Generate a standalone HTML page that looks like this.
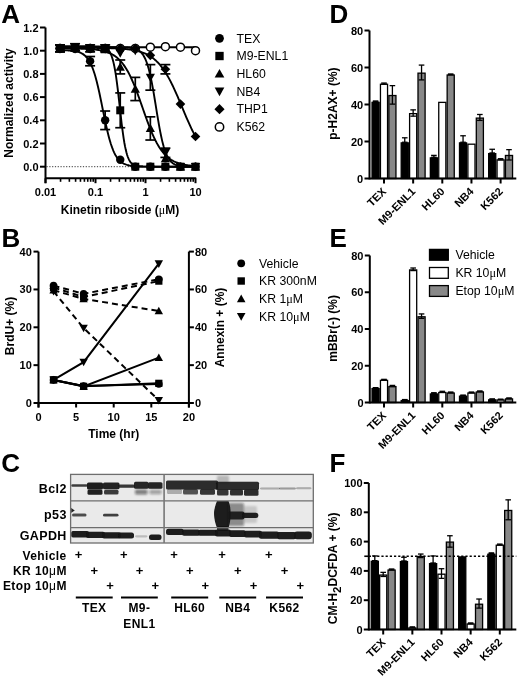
<!DOCTYPE html>
<html><head><meta charset="utf-8"><style>
html,body{margin:0;padding:0;background:#fff;}
body{width:520px;height:678px;overflow:hidden;}
svg{display:block;filter:blur(0.3px);font-family:"Liberation Sans", sans-serif;}
</style></head><body>
<svg width="520" height="678" viewBox="0 0 520 678">
<rect width="520" height="678" fill="#fff"/>
<text x="1.20" y="22.50" font-size="26" font-weight="bold" text-anchor="start" >A</text>
<line x1="45.50" y1="27.50" x2="45.50" y2="183.20" stroke="#000" stroke-width="2" />
<line x1="40.00" y1="166.70" x2="45.50" y2="166.70" stroke="#000" stroke-width="2" />
<text x="38.50" y="170.70" font-size="11" font-weight="bold" text-anchor="end" >0.0</text>
<line x1="40.00" y1="143.50" x2="45.50" y2="143.50" stroke="#000" stroke-width="2" />
<text x="38.50" y="147.50" font-size="11" font-weight="bold" text-anchor="end" >0.2</text>
<line x1="40.00" y1="120.30" x2="45.50" y2="120.30" stroke="#000" stroke-width="2" />
<text x="38.50" y="124.30" font-size="11" font-weight="bold" text-anchor="end" >0.4</text>
<line x1="40.00" y1="97.10" x2="45.50" y2="97.10" stroke="#000" stroke-width="2" />
<text x="38.50" y="101.10" font-size="11" font-weight="bold" text-anchor="end" >0.6</text>
<line x1="40.00" y1="73.90" x2="45.50" y2="73.90" stroke="#000" stroke-width="2" />
<text x="38.50" y="77.90" font-size="11" font-weight="bold" text-anchor="end" >0.8</text>
<line x1="40.00" y1="50.70" x2="45.50" y2="50.70" stroke="#000" stroke-width="2" />
<text x="38.50" y="54.70" font-size="11" font-weight="bold" text-anchor="end" >1.0</text>
<line x1="40.00" y1="27.50" x2="45.50" y2="27.50" stroke="#000" stroke-width="2" />
<text x="38.50" y="31.50" font-size="11" font-weight="bold" text-anchor="end" >1.2</text>
<line x1="45.50" y1="178.30" x2="196.20" y2="178.30" stroke="#000" stroke-width="2" />
<line x1="60.55" y1="178.30" x2="60.55" y2="181.80" stroke="#000" stroke-width="1.6" />
<line x1="69.36" y1="178.30" x2="69.36" y2="181.80" stroke="#000" stroke-width="1.6" />
<line x1="75.60" y1="178.30" x2="75.60" y2="181.80" stroke="#000" stroke-width="1.6" />
<line x1="80.45" y1="178.30" x2="80.45" y2="181.80" stroke="#000" stroke-width="1.6" />
<line x1="84.41" y1="178.30" x2="84.41" y2="181.80" stroke="#000" stroke-width="1.6" />
<line x1="87.75" y1="178.30" x2="87.75" y2="181.80" stroke="#000" stroke-width="1.6" />
<line x1="90.65" y1="178.30" x2="90.65" y2="181.80" stroke="#000" stroke-width="1.6" />
<line x1="93.21" y1="178.30" x2="93.21" y2="181.80" stroke="#000" stroke-width="1.6" />
<line x1="110.55" y1="178.30" x2="110.55" y2="181.80" stroke="#000" stroke-width="1.6" />
<line x1="119.36" y1="178.30" x2="119.36" y2="181.80" stroke="#000" stroke-width="1.6" />
<line x1="125.60" y1="178.30" x2="125.60" y2="181.80" stroke="#000" stroke-width="1.6" />
<line x1="130.45" y1="178.30" x2="130.45" y2="181.80" stroke="#000" stroke-width="1.6" />
<line x1="134.41" y1="178.30" x2="134.41" y2="181.80" stroke="#000" stroke-width="1.6" />
<line x1="137.75" y1="178.30" x2="137.75" y2="181.80" stroke="#000" stroke-width="1.6" />
<line x1="140.65" y1="178.30" x2="140.65" y2="181.80" stroke="#000" stroke-width="1.6" />
<line x1="143.21" y1="178.30" x2="143.21" y2="181.80" stroke="#000" stroke-width="1.6" />
<line x1="160.55" y1="178.30" x2="160.55" y2="181.80" stroke="#000" stroke-width="1.6" />
<line x1="169.36" y1="178.30" x2="169.36" y2="181.80" stroke="#000" stroke-width="1.6" />
<line x1="175.60" y1="178.30" x2="175.60" y2="181.80" stroke="#000" stroke-width="1.6" />
<line x1="180.45" y1="178.30" x2="180.45" y2="181.80" stroke="#000" stroke-width="1.6" />
<line x1="184.41" y1="178.30" x2="184.41" y2="181.80" stroke="#000" stroke-width="1.6" />
<line x1="187.75" y1="178.30" x2="187.75" y2="181.80" stroke="#000" stroke-width="1.6" />
<line x1="190.65" y1="178.30" x2="190.65" y2="181.80" stroke="#000" stroke-width="1.6" />
<line x1="193.21" y1="178.30" x2="193.21" y2="181.80" stroke="#000" stroke-width="1.6" />
<line x1="45.50" y1="178.30" x2="45.50" y2="183.20" stroke="#000" stroke-width="2" />
<line x1="95.50" y1="178.30" x2="95.50" y2="183.20" stroke="#000" stroke-width="2" />
<line x1="145.50" y1="178.30" x2="145.50" y2="183.20" stroke="#000" stroke-width="2" />
<line x1="195.50" y1="178.30" x2="195.50" y2="183.20" stroke="#000" stroke-width="2" />
<text x="45.50" y="196.00" font-size="11" font-weight="bold" text-anchor="middle" >0.01</text>
<text x="95.50" y="196.00" font-size="11" font-weight="bold" text-anchor="middle" >0.1</text>
<text x="145.50" y="196.00" font-size="11" font-weight="bold" text-anchor="middle" >1</text>
<text x="195.50" y="196.00" font-size="11" font-weight="bold" text-anchor="middle" >10</text>
<text x="120.00" y="213.50" font-size="12" font-weight="bold" text-anchor="middle" >Kinetin riboside (<tspan font-family="Liberation Serif" font-weight="normal">&#956;</tspan>M)</text>
<text transform="translate(12.8,103) rotate(-90)" font-size="12" font-weight="bold" text-anchor="middle">Normalized activity</text>
<line x1="46.50" y1="166.70" x2="196.00" y2="166.70" stroke="#000" stroke-width="0.8" stroke-dasharray="1.2,1.6" stroke="#444"/>
<polyline points="60.00,50.20 60.68,50.21 61.36,50.22 62.03,50.24 62.71,50.25 63.39,50.27 64.07,50.28 64.74,50.30 65.42,50.33 66.10,50.35 66.78,50.38 67.45,50.41 68.13,50.45 68.81,50.49 69.49,50.53 70.16,50.58 70.84,50.64 71.52,50.70 72.20,50.78 72.87,50.85 73.55,50.94 74.23,51.04 74.91,51.16 75.58,51.28 76.26,51.42 76.94,51.58 77.62,51.76 78.29,51.95 78.97,52.17 79.65,52.42 80.33,52.69 81.00,53.00 81.68,53.34 82.36,53.73 83.04,54.15 83.71,54.63 84.39,55.16 85.07,55.74 85.75,56.39 86.42,57.11 87.10,57.91 87.78,58.80 88.46,59.77 89.13,60.84 89.81,62.02 90.49,63.31 91.17,64.72 91.84,66.26 92.52,67.94 93.20,69.75 93.88,71.71 94.55,73.81 95.23,76.06 95.91,78.47 96.59,81.02 97.26,83.71 97.94,86.53 98.62,89.49 99.30,92.55 99.97,95.71 100.65,98.95 101.33,102.26 102.01,105.60 102.68,108.96 103.36,112.32 104.04,115.65 104.72,118.94 105.39,122.16 106.07,125.29 106.75,128.32 107.43,131.23 108.10,134.01 108.78,136.66 109.46,139.16 110.14,141.51 110.81,143.72 111.49,145.77 112.17,147.68 112.85,149.45 113.52,151.08 114.20,152.57 114.88,153.95 115.56,155.20 116.23,156.34 116.91,157.38 117.59,158.32 118.27,159.18 118.94,159.95 119.62,160.65 120.30,161.28 120.98,161.84 121.65,162.35 122.33,162.81 123.01,163.22 123.69,163.59 124.36,163.92 125.04,164.22 125.72,164.48 126.40,164.72 127.07,164.93 127.75,165.12 128.43,165.29 129.11,165.45 129.78,165.58 130.46,165.70 131.14,165.81 131.82,165.91 132.49,165.99 133.17,166.07 133.85,166.14 134.53,166.20 135.20,166.25 135.88,166.30 136.56,166.34 137.24,166.38 137.91,166.42 138.59,166.45 139.27,166.48 139.95,166.50 140.62,166.52 141.30,166.54 141.98,166.56 142.66,166.57 143.33,166.59 144.01,166.60 144.69,166.61 145.37,166.62 146.04,166.63 146.72,166.64 147.40,166.64 148.08,166.65 148.75,166.66 149.43,166.66 150.11,166.66 150.79,166.67 151.46,166.67 152.14,166.67 152.82,166.68 153.50,166.68 154.17,166.68 154.85,166.68 155.53,166.69 156.21,166.69 156.88,166.69 157.56,166.69 158.24,166.69 158.92,166.69 159.59,166.69 160.27,166.69 160.95,166.69 161.63,166.70 162.30,166.70 162.98,166.70 163.66,166.70 164.34,166.70 165.01,166.70 165.69,166.70 166.37,166.70 167.05,166.70 167.72,166.70 168.40,166.70 169.08,166.70 169.76,166.70 170.43,166.70 171.11,166.70 171.79,166.70 172.47,166.70 173.14,166.70 173.82,166.70 174.50,166.70 175.18,166.70 175.85,166.70 176.53,166.70 177.21,166.70 177.89,166.70 178.56,166.70 179.24,166.70 179.92,166.70 180.60,166.70 181.27,166.70 181.95,166.70 182.63,166.70 183.31,166.70 183.98,166.70 184.66,166.70 185.34,166.70 186.02,166.70 186.69,166.70 187.37,166.70 188.05,166.70 188.73,166.70 189.40,166.70 190.08,166.70 190.76,166.70 191.44,166.70 192.11,166.70 192.79,166.70 193.47,166.70 194.15,166.70 194.82,166.70 195.50,166.70" fill="none" stroke="#000" stroke-width="1.9"/>
<polyline points="60.00,46.29 60.68,46.29 61.36,46.29 62.03,46.29 62.71,46.29 63.39,46.29 64.07,46.29 64.74,46.29 65.42,46.29 66.10,46.29 66.78,46.29 67.45,46.29 68.13,46.29 68.81,46.29 69.49,46.29 70.16,46.29 70.84,46.29 71.52,46.29 72.20,46.29 72.87,46.29 73.55,46.29 74.23,46.29 74.91,46.29 75.58,46.29 76.26,46.29 76.94,46.29 77.62,46.29 78.29,46.29 78.97,46.29 79.65,46.29 80.33,46.29 81.00,46.29 81.68,46.29 82.36,46.29 83.04,46.29 83.71,46.29 84.39,46.30 85.07,46.30 85.75,46.30 86.42,46.30 87.10,46.30 87.78,46.30 88.46,46.30 89.13,46.30 89.81,46.31 90.49,46.31 91.17,46.32 91.84,46.32 92.52,46.33 93.20,46.33 93.88,46.34 94.55,46.36 95.23,46.37 95.91,46.39 96.59,46.41 97.26,46.44 97.94,46.47 98.62,46.51 99.30,46.56 99.97,46.62 100.65,46.69 101.33,46.78 102.01,46.89 102.68,47.02 103.36,47.19 104.04,47.39 104.72,47.63 105.39,47.92 106.07,48.29 106.75,48.73 107.43,49.26 108.10,49.91 108.78,50.69 109.46,51.63 110.14,52.77 110.81,54.13 111.49,55.75 112.17,57.68 112.85,59.95 113.52,62.61 114.20,65.68 114.88,69.21 115.56,73.21 116.23,77.69 116.91,82.62 117.59,87.96 118.27,93.64 118.94,99.57 119.62,105.65 120.30,111.74 120.98,117.73 121.65,123.49 122.33,128.93 123.01,133.98 123.69,138.58 124.36,142.72 125.04,146.38 125.72,149.58 126.40,152.34 127.07,154.72 127.75,156.74 128.43,158.44 129.11,159.87 129.78,161.06 130.46,162.06 131.14,162.88 131.82,163.57 132.49,164.13 133.17,164.59 133.85,164.97 134.53,165.29 135.20,165.54 135.88,165.75 136.56,165.93 137.24,166.07 137.91,166.18 138.59,166.28 139.27,166.36 139.95,166.42 140.62,166.47 141.30,166.51 141.98,166.55 142.66,166.57 143.33,166.60 144.01,166.62 144.69,166.63 145.37,166.64 146.04,166.65 146.72,166.66 147.40,166.67 148.08,166.68 148.75,166.68 149.43,166.68 150.11,166.69 150.79,166.69 151.46,166.69 152.14,166.69 152.82,166.69 153.50,166.70 154.17,166.70 154.85,166.70 155.53,166.70 156.21,166.70 156.88,166.70 157.56,166.70 158.24,166.70 158.92,166.70 159.59,166.70 160.27,166.70 160.95,166.70 161.63,166.70 162.30,166.70 162.98,166.70 163.66,166.70 164.34,166.70 165.01,166.70 165.69,166.70 166.37,166.70 167.05,166.70 167.72,166.70 168.40,166.70 169.08,166.70 169.76,166.70 170.43,166.70 171.11,166.70 171.79,166.70 172.47,166.70 173.14,166.70 173.82,166.70 174.50,166.70 175.18,166.70 175.85,166.70 176.53,166.70 177.21,166.70 177.89,166.70 178.56,166.70 179.24,166.70 179.92,166.70 180.60,166.70 181.27,166.70 181.95,166.70 182.63,166.70 183.31,166.70 183.98,166.70 184.66,166.70 185.34,166.70 186.02,166.70 186.69,166.70 187.37,166.70 188.05,166.70 188.73,166.70 189.40,166.70 190.08,166.70 190.76,166.70 191.44,166.70 192.11,166.70 192.79,166.70 193.47,166.70 194.15,166.70 194.82,166.70 195.50,166.70" fill="none" stroke="#000" stroke-width="1.9"/>
<polyline points="60.00,48.42 60.68,48.42 61.36,48.43 62.03,48.43 62.71,48.43 63.39,48.44 64.07,48.44 64.74,48.44 65.42,48.45 66.10,48.45 66.78,48.46 67.45,48.46 68.13,48.47 68.81,48.48 69.49,48.48 70.16,48.49 70.84,48.50 71.52,48.50 72.20,48.51 72.87,48.52 73.55,48.53 74.23,48.54 74.91,48.55 75.58,48.56 76.26,48.58 76.94,48.59 77.62,48.60 78.29,48.62 78.97,48.63 79.65,48.65 80.33,48.67 81.00,48.69 81.68,48.71 82.36,48.73 83.04,48.76 83.71,48.78 84.39,48.81 85.07,48.84 85.75,48.87 86.42,48.90 87.10,48.94 87.78,48.97 88.46,49.01 89.13,49.06 89.81,49.10 90.49,49.15 91.17,49.20 91.84,49.26 92.52,49.32 93.20,49.38 93.88,49.45 94.55,49.52 95.23,49.59 95.91,49.68 96.59,49.76 97.26,49.85 97.94,49.95 98.62,50.06 99.30,50.17 99.97,50.29 100.65,50.42 101.33,50.55 102.01,50.70 102.68,50.85 103.36,51.01 104.04,51.19 104.72,51.37 105.39,51.57 106.07,51.78 106.75,52.00 107.43,52.24 108.10,52.49 108.78,52.76 109.46,53.05 110.14,53.35 110.81,53.67 111.49,54.01 112.17,54.37 112.85,54.76 113.52,55.16 114.20,55.59 114.88,56.05 115.56,56.53 116.23,57.05 116.91,57.59 117.59,58.16 118.27,58.76 118.94,59.40 119.62,60.07 120.30,60.78 120.98,61.53 121.65,62.31 122.33,63.14 123.01,64.01 123.69,64.92 124.36,65.87 125.04,66.87 125.72,67.92 126.40,69.01 127.07,70.15 127.75,71.34 128.43,72.57 129.11,73.86 129.78,75.19 130.46,76.58 131.14,78.01 131.82,79.49 132.49,81.01 133.17,82.58 133.85,84.20 134.53,85.86 135.20,87.55 135.88,89.29 136.56,91.06 137.24,92.86 137.91,94.70 138.59,96.55 139.27,98.44 139.95,100.34 140.62,102.25 141.30,104.18 141.98,106.12 142.66,108.05 143.33,109.99 144.01,111.92 144.69,113.84 145.37,115.75 146.04,117.64 146.72,119.51 147.40,121.36 148.08,123.18 148.75,124.96 149.43,126.72 150.11,128.43 150.79,130.11 151.46,131.74 152.14,133.34 152.82,134.88 153.50,136.38 154.17,137.84 154.85,139.24 155.53,140.60 156.21,141.91 156.88,143.17 157.56,144.38 158.24,145.54 158.92,146.66 159.59,147.72 160.27,148.74 160.95,149.72 161.63,150.65 162.30,151.54 162.98,152.38 163.66,153.19 164.34,153.95 165.01,154.68 165.69,155.37 166.37,156.02 167.05,156.64 167.72,157.23 168.40,157.78 169.08,158.31 169.76,158.81 170.43,159.27 171.11,159.72 171.79,160.14 172.47,160.53 173.14,160.90 173.82,161.25 174.50,161.58 175.18,161.90 175.85,162.19 176.53,162.46 177.21,162.72 177.89,162.97 178.56,163.20 179.24,163.41 179.92,163.62 180.60,163.81 181.27,163.99 181.95,164.15 182.63,164.31 183.31,164.46 183.98,164.60 184.66,164.73 185.34,164.85 186.02,164.97 186.69,165.08 187.37,165.18 188.05,165.28 188.73,165.36 189.40,165.45 190.08,165.53 190.76,165.60 191.44,165.67 192.11,165.73 192.79,165.80 193.47,165.85 194.15,165.91 194.82,165.96 195.50,166.00" fill="none" stroke="#000" stroke-width="1.9"/>
<polyline points="60.00,47.22 60.68,47.22 61.36,47.22 62.03,47.22 62.71,47.22 63.39,47.22 64.07,47.22 64.74,47.22 65.42,47.22 66.10,47.22 66.78,47.22 67.45,47.22 68.13,47.22 68.81,47.22 69.49,47.22 70.16,47.22 70.84,47.22 71.52,47.22 72.20,47.22 72.87,47.22 73.55,47.22 74.23,47.22 74.91,47.22 75.58,47.22 76.26,47.22 76.94,47.22 77.62,47.22 78.29,47.22 78.97,47.22 79.65,47.22 80.33,47.22 81.00,47.22 81.68,47.22 82.36,47.22 83.04,47.22 83.71,47.22 84.39,47.22 85.07,47.22 85.75,47.22 86.42,47.22 87.10,47.22 87.78,47.22 88.46,47.22 89.13,47.22 89.81,47.22 90.49,47.22 91.17,47.22 91.84,47.22 92.52,47.22 93.20,47.22 93.88,47.22 94.55,47.22 95.23,47.22 95.91,47.22 96.59,47.22 97.26,47.22 97.94,47.22 98.62,47.22 99.30,47.22 99.97,47.22 100.65,47.22 101.33,47.22 102.01,47.22 102.68,47.22 103.36,47.22 104.04,47.22 104.72,47.22 105.39,47.22 106.07,47.22 106.75,47.22 107.43,47.23 108.10,47.23 108.78,47.23 109.46,47.23 110.14,47.23 110.81,47.23 111.49,47.23 112.17,47.23 112.85,47.24 113.52,47.24 114.20,47.24 114.88,47.24 115.56,47.25 116.23,47.25 116.91,47.26 117.59,47.26 118.27,47.27 118.94,47.28 119.62,47.28 120.30,47.29 120.98,47.30 121.65,47.32 122.33,47.33 123.01,47.35 123.69,47.37 124.36,47.39 125.04,47.42 125.72,47.45 126.40,47.48 127.07,47.52 127.75,47.56 128.43,47.61 129.11,47.67 129.78,47.74 130.46,47.82 131.14,47.91 131.82,48.01 132.49,48.13 133.17,48.27 133.85,48.43 134.53,48.61 135.20,48.81 135.88,49.05 136.56,49.32 137.24,49.63 137.91,49.98 138.59,50.39 139.27,50.85 139.95,51.38 140.62,51.98 141.30,52.67 141.98,53.45 142.66,54.33 143.33,55.33 144.01,56.46 144.69,57.73 145.37,59.15 146.04,60.75 146.72,62.52 147.40,64.50 148.08,66.68 148.75,69.07 149.43,71.69 150.11,74.54 150.79,77.61 151.46,80.90 152.14,84.40 152.82,88.08 153.50,91.94 154.17,95.93 154.85,100.03 155.53,104.19 156.21,108.38 156.88,112.56 157.56,116.68 158.24,120.71 158.92,124.61 159.59,128.36 160.27,131.92 160.95,135.28 161.63,138.42 162.30,141.34 162.98,144.03 163.66,146.50 164.34,148.74 165.01,150.78 165.69,152.62 166.37,154.27 167.05,155.75 167.72,157.07 168.40,158.24 169.08,159.28 169.76,160.20 170.43,161.01 171.11,161.73 171.79,162.35 172.47,162.90 173.14,163.39 173.82,163.81 174.50,164.18 175.18,164.51 175.85,164.79 176.53,165.04 177.21,165.25 177.89,165.44 178.56,165.60 179.24,165.74 179.92,165.87 180.60,165.98 181.27,166.07 181.95,166.15 182.63,166.22 183.31,166.29 183.98,166.34 184.66,166.39 185.34,166.43 186.02,166.46 186.69,166.49 187.37,166.52 188.05,166.55 188.73,166.57 189.40,166.58 190.08,166.60 190.76,166.61 191.44,166.62 192.11,166.63 192.79,166.64 193.47,166.65 194.15,166.66 194.82,166.66 195.50,166.67" fill="none" stroke="#000" stroke-width="1.9"/>
<polyline points="60.00,47.81 60.68,47.81 61.36,47.81 62.03,47.81 62.71,47.81 63.39,47.81 64.07,47.81 64.74,47.81 65.42,47.81 66.10,47.81 66.78,47.81 67.45,47.81 68.13,47.81 68.81,47.81 69.49,47.81 70.16,47.81 70.84,47.82 71.52,47.82 72.20,47.82 72.87,47.82 73.55,47.82 74.23,47.82 74.91,47.82 75.58,47.82 76.26,47.82 76.94,47.82 77.62,47.83 78.29,47.83 78.97,47.83 79.65,47.83 80.33,47.83 81.00,47.83 81.68,47.84 82.36,47.84 83.04,47.84 83.71,47.84 84.39,47.85 85.07,47.85 85.75,47.85 86.42,47.85 87.10,47.86 87.78,47.86 88.46,47.86 89.13,47.87 89.81,47.87 90.49,47.87 91.17,47.88 91.84,47.88 92.52,47.89 93.20,47.89 93.88,47.90 94.55,47.90 95.23,47.91 95.91,47.91 96.59,47.92 97.26,47.93 97.94,47.93 98.62,47.94 99.30,47.95 99.97,47.96 100.65,47.97 101.33,47.98 102.01,47.99 102.68,48.00 103.36,48.01 104.04,48.02 104.72,48.03 105.39,48.04 106.07,48.06 106.75,48.07 107.43,48.09 108.10,48.10 108.78,48.12 109.46,48.14 110.14,48.16 110.81,48.18 111.49,48.20 112.17,48.22 112.85,48.25 113.52,48.27 114.20,48.30 114.88,48.32 115.56,48.35 116.23,48.38 116.91,48.42 117.59,48.45 118.27,48.49 118.94,48.53 119.62,48.57 120.30,48.61 120.98,48.66 121.65,48.70 122.33,48.75 123.01,48.81 123.69,48.86 124.36,48.92 125.04,48.98 125.72,49.05 126.40,49.12 127.07,49.19 127.75,49.27 128.43,49.35 129.11,49.44 129.78,49.53 130.46,49.62 131.14,49.72 131.82,49.83 132.49,49.94 133.17,50.06 133.85,50.18 134.53,50.31 135.20,50.45 135.88,50.60 136.56,50.75 137.24,50.91 137.91,51.08 138.59,51.26 139.27,51.45 139.95,51.64 140.62,51.85 141.30,52.07 141.98,52.30 142.66,52.55 143.33,52.80 144.01,53.07 144.69,53.35 145.37,53.65 146.04,53.96 146.72,54.28 147.40,54.63 148.08,54.99 148.75,55.36 149.43,55.76 150.11,56.18 150.79,56.61 151.46,57.07 152.14,57.54 152.82,58.04 153.50,58.57 154.17,59.11 154.85,59.69 155.53,60.28 156.21,60.91 156.88,61.56 157.56,62.23 158.24,62.94 158.92,63.68 159.59,64.44 160.27,65.24 160.95,66.07 161.63,66.93 162.30,67.82 162.98,68.75 163.66,69.71 164.34,70.70 165.01,71.73 165.69,72.79 166.37,73.88 167.05,75.01 167.72,76.17 168.40,77.37 169.08,78.60 169.76,79.86 170.43,81.15 171.11,82.48 171.79,83.84 172.47,85.22 173.14,86.64 173.82,88.08 174.50,89.54 175.18,91.04 175.85,92.55 176.53,94.08 177.21,95.63 177.89,97.20 178.56,98.79 179.24,100.38 179.92,101.99 180.60,103.60 181.27,105.22 181.95,106.84 182.63,108.47 183.31,110.09 183.98,111.70 184.66,113.31 185.34,114.92 186.02,116.51 186.69,118.08 187.37,119.64 188.05,121.19 188.73,122.71 189.40,124.21 190.08,125.69 190.76,127.15 191.44,128.57 192.11,129.97 192.79,131.34 193.47,132.69 194.15,134.00 194.82,135.27 195.50,136.52" fill="none" stroke="#000" stroke-width="1.9"/>
<polyline points="60.00,47.22 60.68,47.22 61.36,47.22 62.03,47.22 62.71,47.22 63.39,47.22 64.07,47.22 64.74,47.22 65.42,47.22 66.10,47.22 66.78,47.22 67.45,47.22 68.13,47.22 68.81,47.22 69.49,47.22 70.16,47.22 70.84,47.22 71.52,47.22 72.20,47.22 72.87,47.22 73.55,47.22 74.23,47.22 74.91,47.22 75.58,47.22 76.26,47.22 76.94,47.22 77.62,47.22 78.29,47.22 78.97,47.22 79.65,47.22 80.33,47.22 81.00,47.22 81.68,47.22 82.36,47.22 83.04,47.22 83.71,47.22 84.39,47.22 85.07,47.22 85.75,47.22 86.42,47.22 87.10,47.22 87.78,47.22 88.46,47.22 89.13,47.22 89.81,47.22 90.49,47.22 91.17,47.22 91.84,47.22 92.52,47.22 93.20,47.22 93.88,47.22 94.55,47.22 95.23,47.22 95.91,47.22 96.59,47.22 97.26,47.22 97.94,47.22 98.62,47.22 99.30,47.22 99.97,47.22 100.65,47.22 101.33,47.22 102.01,47.22 102.68,47.22 103.36,47.22 104.04,47.22 104.72,47.22 105.39,47.22 106.07,47.22 106.75,47.22 107.43,47.22 108.10,47.22 108.78,47.22 109.46,47.22 110.14,47.22 110.81,47.22 111.49,47.22 112.17,47.22 112.85,47.22 113.52,47.22 114.20,47.22 114.88,47.22 115.56,47.22 116.23,47.22 116.91,47.22 117.59,47.22 118.27,47.22 118.94,47.22 119.62,47.22 120.30,47.22 120.98,47.22 121.65,47.22 122.33,47.22 123.01,47.22 123.69,47.22 124.36,47.22 125.04,47.22 125.72,47.22 126.40,47.22 127.07,47.22 127.75,47.22 128.43,47.22 129.11,47.22 129.78,47.22 130.46,47.22 131.14,47.22 131.82,47.22 132.49,47.22 133.17,47.22 133.85,47.22 134.53,47.22 135.20,47.22 135.88,47.22 136.56,47.22 137.24,47.22 137.91,47.22 138.59,47.22 139.27,47.22 139.95,47.22 140.62,47.22 141.30,47.22 141.98,47.22 142.66,47.22 143.33,47.22 144.01,47.22 144.69,47.22 145.37,47.22 146.04,47.22 146.72,47.22 147.40,47.22 148.08,47.22 148.75,47.22 149.43,47.22 150.11,47.22 150.79,47.22 151.46,47.22 152.14,47.22 152.82,47.22 153.50,47.22 154.17,47.22 154.85,47.22 155.53,47.22 156.21,47.22 156.88,47.22 157.56,47.22 158.24,47.22 158.92,47.22 159.59,47.22 160.27,47.22 160.95,47.22 161.63,47.22 162.30,47.22 162.98,47.22 163.66,47.22 164.34,47.22 165.01,47.22 165.69,47.22 166.37,47.22 167.05,47.22 167.72,47.22 168.40,47.22 169.08,47.22 169.76,47.22 170.43,47.22 171.11,47.22 171.79,47.22 172.47,47.22 173.14,47.22 173.82,47.22 174.50,47.22 175.18,47.22 175.85,47.22 176.53,47.22 177.21,47.22 177.89,47.22 178.56,47.22 179.24,47.22 179.92,47.22 180.60,47.22 181.27,47.22 181.95,47.22 182.63,47.22 183.31,47.22 183.98,47.22 184.66,47.22 185.34,47.22 186.02,47.22 186.69,47.22 187.37,47.22 188.05,47.22 188.73,47.22 189.40,47.22 190.08,47.22 190.76,47.22 191.44,47.22 192.11,47.22 192.79,47.22 193.47,47.22 194.15,47.22 194.82,47.22 195.50,47.22" fill="none" stroke="#000" stroke-width="1.9"/>
<circle cx="60.00" cy="48.38" r="4.00" fill="#fff" stroke="#000" stroke-width="1.5"/>
<circle cx="75.05" cy="48.38" r="4.00" fill="#fff" stroke="#000" stroke-width="1.5"/>
<circle cx="90.10" cy="48.38" r="4.00" fill="#fff" stroke="#000" stroke-width="1.5"/>
<circle cx="105.16" cy="48.38" r="4.00" fill="#fff" stroke="#000" stroke-width="1.5"/>
<circle cx="120.24" cy="48.38" r="4.00" fill="#fff" stroke="#000" stroke-width="1.5"/>
<circle cx="135.29" cy="48.38" r="4.00" fill="#fff" stroke="#000" stroke-width="1.5"/>
<circle cx="150.35" cy="47.22" r="4.00" fill="#fff" stroke="#000" stroke-width="1.5"/>
<circle cx="165.40" cy="46.64" r="4.00" fill="#fff" stroke="#000" stroke-width="1.5"/>
<circle cx="180.45" cy="47.22" r="4.00" fill="#fff" stroke="#000" stroke-width="1.5"/>
<circle cx="195.50" cy="50.70" r="4.00" fill="#fff" stroke="#000" stroke-width="1.5"/>
<path d="M60.00,43.55 L64.83,48.38 L60.00,53.21 L55.17,48.38Z" fill="#000"/>
<path d="M75.05,43.55 L79.88,48.38 L75.05,53.21 L70.22,48.38Z" fill="#000"/>
<path d="M90.10,43.55 L94.93,48.38 L90.10,53.21 L85.27,48.38Z" fill="#000"/>
<path d="M105.16,43.55 L109.99,48.38 L105.16,53.21 L100.33,48.38Z" fill="#000"/>
<path d="M120.24,43.55 L125.07,48.38 L120.24,53.21 L115.41,48.38Z" fill="#000"/>
<path d="M135.29,43.55 L140.12,48.38 L135.29,53.21 L130.46,48.38Z" fill="#000"/>
<path d="M150.35,50.51 L155.18,55.34 L150.35,60.17 L145.52,55.34Z" fill="#000"/>
<line x1="165.40" y1="64.62" x2="165.40" y2="73.90" stroke="#000" stroke-width="1.7" />
<line x1="160.40" y1="64.62" x2="170.40" y2="64.62" stroke="#000" stroke-width="1.7" />
<line x1="160.40" y1="73.90" x2="170.40" y2="73.90" stroke="#000" stroke-width="1.7" />
<path d="M165.40,64.43 L170.23,69.26 L165.40,74.09 L160.57,69.26Z" fill="#000"/>
<path d="M180.45,99.23 L185.28,104.06 L180.45,108.89 L175.62,104.06Z" fill="#000"/>
<path d="M195.50,131.71 L200.33,136.54 L195.50,141.37 L190.67,136.54Z" fill="#000"/>
<path d="M60.00,53.00 L64.62,44.68 L55.38,44.68Z" fill="#000"/>
<path d="M75.05,53.00 L79.67,44.68 L70.43,44.68Z" fill="#000"/>
<path d="M90.10,53.00 L94.72,44.68 L85.48,44.68Z" fill="#000"/>
<path d="M105.16,53.00 L109.78,44.68 L100.54,44.68Z" fill="#000"/>
<path d="M120.24,57.64 L124.86,49.32 L115.62,49.32Z" fill="#000"/>
<path d="M135.29,55.32 L139.91,47.00 L130.67,47.00Z" fill="#000"/>
<line x1="150.35" y1="64.62" x2="150.35" y2="90.14" stroke="#000" stroke-width="1.7" />
<line x1="145.35" y1="64.62" x2="155.35" y2="64.62" stroke="#000" stroke-width="1.7" />
<line x1="145.35" y1="90.14" x2="155.35" y2="90.14" stroke="#000" stroke-width="1.7" />
<path d="M150.35,82.00 L154.97,73.68 L145.73,73.68Z" fill="#000"/>
<line x1="165.40" y1="148.14" x2="165.40" y2="157.42" stroke="#000" stroke-width="1.7" />
<line x1="160.40" y1="148.14" x2="170.40" y2="148.14" stroke="#000" stroke-width="1.7" />
<line x1="160.40" y1="157.42" x2="170.40" y2="157.42" stroke="#000" stroke-width="1.7" />
<path d="M165.40,157.40 L170.02,149.08 L160.78,149.08Z" fill="#000"/>
<path d="M180.45,171.32 L185.07,163.00 L175.83,163.00Z" fill="#000"/>
<path d="M195.50,171.32 L200.12,163.00 L190.88,163.00Z" fill="#000"/>
<path d="M60.00,43.76 L64.62,52.08 L55.38,52.08Z" fill="#000"/>
<path d="M75.05,43.76 L79.67,52.08 L70.43,52.08Z" fill="#000"/>
<path d="M90.10,43.76 L94.72,52.08 L85.48,52.08Z" fill="#000"/>
<path d="M105.16,44.92 L109.78,53.24 L100.54,53.24Z" fill="#000"/>
<line x1="120.24" y1="59.98" x2="120.24" y2="73.90" stroke="#000" stroke-width="1.7" />
<line x1="115.24" y1="59.98" x2="125.24" y2="59.98" stroke="#000" stroke-width="1.7" />
<line x1="115.24" y1="73.90" x2="125.24" y2="73.90" stroke="#000" stroke-width="1.7" />
<path d="M120.24,62.32 L124.86,70.64 L115.62,70.64Z" fill="#000"/>
<line x1="135.29" y1="77.38" x2="135.29" y2="100.58" stroke="#000" stroke-width="1.7" />
<line x1="130.29" y1="77.38" x2="140.29" y2="77.38" stroke="#000" stroke-width="1.7" />
<line x1="130.29" y1="100.58" x2="140.29" y2="100.58" stroke="#000" stroke-width="1.7" />
<path d="M135.29,84.36 L139.91,92.68 L130.67,92.68Z" fill="#000"/>
<line x1="150.35" y1="116.82" x2="150.35" y2="140.02" stroke="#000" stroke-width="1.7" />
<line x1="145.35" y1="116.82" x2="155.35" y2="116.82" stroke="#000" stroke-width="1.7" />
<line x1="145.35" y1="140.02" x2="155.35" y2="140.02" stroke="#000" stroke-width="1.7" />
<path d="M150.35,123.80 L154.97,132.12 L145.73,132.12Z" fill="#000"/>
<path d="M165.40,153.96 L170.02,162.28 L160.78,162.28Z" fill="#000"/>
<path d="M180.45,162.08 L185.07,170.40 L175.83,170.40Z" fill="#000"/>
<path d="M195.50,162.08 L200.12,170.40 L190.88,170.40Z" fill="#000"/>
<line x1="60.00" y1="44.90" x2="60.00" y2="51.86" stroke="#000" stroke-width="1.7" />
<line x1="55.00" y1="44.90" x2="65.00" y2="44.90" stroke="#000" stroke-width="1.7" />
<line x1="55.00" y1="51.86" x2="65.00" y2="51.86" stroke="#000" stroke-width="1.7" />
<rect x="56.01" y="44.39" width="7.98" height="7.98" fill="#000"/>
<line x1="75.05" y1="43.74" x2="75.05" y2="50.70" stroke="#000" stroke-width="1.7" />
<line x1="70.05" y1="43.74" x2="80.05" y2="43.74" stroke="#000" stroke-width="1.7" />
<line x1="70.05" y1="50.70" x2="80.05" y2="50.70" stroke="#000" stroke-width="1.7" />
<rect x="71.06" y="43.23" width="7.98" height="7.98" fill="#000"/>
<line x1="90.10" y1="44.90" x2="90.10" y2="51.86" stroke="#000" stroke-width="1.7" />
<line x1="85.10" y1="44.90" x2="95.10" y2="44.90" stroke="#000" stroke-width="1.7" />
<line x1="85.10" y1="51.86" x2="95.10" y2="51.86" stroke="#000" stroke-width="1.7" />
<rect x="86.11" y="44.39" width="7.98" height="7.98" fill="#000"/>
<line x1="105.16" y1="44.90" x2="105.16" y2="51.86" stroke="#000" stroke-width="1.7" />
<line x1="100.16" y1="44.90" x2="110.16" y2="44.90" stroke="#000" stroke-width="1.7" />
<line x1="100.16" y1="51.86" x2="110.16" y2="51.86" stroke="#000" stroke-width="1.7" />
<rect x="101.17" y="44.39" width="7.98" height="7.98" fill="#000"/>
<line x1="120.24" y1="92.92" x2="120.24" y2="127.72" stroke="#000" stroke-width="1.7" />
<line x1="115.24" y1="92.92" x2="125.24" y2="92.92" stroke="#000" stroke-width="1.7" />
<line x1="115.24" y1="127.72" x2="125.24" y2="127.72" stroke="#000" stroke-width="1.7" />
<rect x="116.25" y="106.33" width="7.98" height="7.98" fill="#000"/>
<rect x="131.30" y="162.71" width="7.98" height="7.98" fill="#000"/>
<rect x="146.36" y="162.71" width="7.98" height="7.98" fill="#000"/>
<rect x="161.41" y="162.71" width="7.98" height="7.98" fill="#000"/>
<rect x="176.46" y="162.71" width="7.98" height="7.98" fill="#000"/>
<rect x="191.51" y="162.71" width="7.98" height="7.98" fill="#000"/>
<line x1="60.00" y1="44.90" x2="60.00" y2="51.86" stroke="#000" stroke-width="1.7" />
<line x1="55.00" y1="44.90" x2="65.00" y2="44.90" stroke="#000" stroke-width="1.7" />
<line x1="55.00" y1="51.86" x2="65.00" y2="51.86" stroke="#000" stroke-width="1.7" />
<circle cx="60.00" cy="48.38" r="4.20" fill="#000"/>
<circle cx="75.05" cy="48.38" r="4.20" fill="#000"/>
<line x1="90.10" y1="56.50" x2="90.10" y2="65.78" stroke="#000" stroke-width="1.7" />
<line x1="85.10" y1="56.50" x2="95.10" y2="56.50" stroke="#000" stroke-width="1.7" />
<line x1="85.10" y1="65.78" x2="95.10" y2="65.78" stroke="#000" stroke-width="1.7" />
<circle cx="90.10" cy="61.14" r="4.20" fill="#000"/>
<line x1="105.16" y1="111.02" x2="105.16" y2="129.58" stroke="#000" stroke-width="1.7" />
<line x1="100.16" y1="111.02" x2="110.16" y2="111.02" stroke="#000" stroke-width="1.7" />
<line x1="100.16" y1="129.58" x2="110.16" y2="129.58" stroke="#000" stroke-width="1.7" />
<circle cx="105.16" cy="120.30" r="4.20" fill="#000"/>
<circle cx="120.24" cy="159.74" r="4.20" fill="#000"/>
<circle cx="135.29" cy="166.70" r="4.20" fill="#000"/>
<circle cx="150.35" cy="166.70" r="4.20" fill="#000"/>
<circle cx="165.40" cy="166.70" r="4.20" fill="#000"/>
<circle cx="180.45" cy="166.70" r="4.20" fill="#000"/>
<circle cx="195.50" cy="166.70" r="4.20" fill="#000"/>
<circle cx="219.50" cy="38.30" r="4.40" fill="#000"/>
<text x="236.50" y="42.60" font-size="12.25" font-weight="normal" text-anchor="start" >TEX</text>
<rect x="215.32" y="51.84" width="8.36" height="8.36" fill="#000"/>
<text x="236.50" y="60.32" font-size="12.25" font-weight="normal" text-anchor="start" >M9-ENL1</text>
<path d="M219.50,68.90 L224.34,77.61 L214.66,77.61Z" fill="#000"/>
<text x="236.50" y="78.04" font-size="12.25" font-weight="normal" text-anchor="start" >HL60</text>
<path d="M219.50,96.30 L224.34,87.59 L214.66,87.59Z" fill="#000"/>
<text x="236.50" y="95.76" font-size="12.25" font-weight="normal" text-anchor="start" >NB4</text>
<path d="M219.50,104.12 L224.56,109.18 L219.50,114.24 L214.44,109.18Z" fill="#000"/>
<text x="236.50" y="113.48" font-size="12.25" font-weight="normal" text-anchor="start" >THP1</text>
<circle cx="219.50" cy="126.90" r="4.20" fill="#fff" stroke="#000" stroke-width="1.5"/>
<text x="236.50" y="131.20" font-size="12.25" font-weight="normal" text-anchor="start" >K562</text>
<text x="1.60" y="246.80" font-size="26" font-weight="bold" text-anchor="start" >B</text>
<line x1="38.50" y1="251.60" x2="38.50" y2="407.50" stroke="#000" stroke-width="2" />
<line x1="33.50" y1="403.00" x2="38.50" y2="403.00" stroke="#000" stroke-width="2" />
<text x="31.80" y="407.00" font-size="11" font-weight="bold" text-anchor="end" >0</text>
<line x1="33.50" y1="365.15" x2="38.50" y2="365.15" stroke="#000" stroke-width="2" />
<text x="31.80" y="369.15" font-size="11" font-weight="bold" text-anchor="end" >10</text>
<line x1="33.50" y1="327.30" x2="38.50" y2="327.30" stroke="#000" stroke-width="2" />
<text x="31.80" y="331.30" font-size="11" font-weight="bold" text-anchor="end" >20</text>
<line x1="33.50" y1="289.45" x2="38.50" y2="289.45" stroke="#000" stroke-width="2" />
<text x="31.80" y="293.45" font-size="11" font-weight="bold" text-anchor="end" >30</text>
<line x1="33.50" y1="251.60" x2="38.50" y2="251.60" stroke="#000" stroke-width="2" />
<text x="31.80" y="255.60" font-size="11" font-weight="bold" text-anchor="end" >40</text>
<line x1="188.90" y1="251.60" x2="188.90" y2="407.50" stroke="#000" stroke-width="2" />
<line x1="188.90" y1="403.00" x2="193.90" y2="403.00" stroke="#000" stroke-width="2" />
<text x="194.90" y="407.00" font-size="11" font-weight="bold" text-anchor="start" >0</text>
<line x1="188.90" y1="365.15" x2="193.90" y2="365.15" stroke="#000" stroke-width="2" />
<text x="194.90" y="369.15" font-size="11" font-weight="bold" text-anchor="start" >20</text>
<line x1="188.90" y1="327.30" x2="193.90" y2="327.30" stroke="#000" stroke-width="2" />
<text x="194.90" y="331.30" font-size="11" font-weight="bold" text-anchor="start" >40</text>
<line x1="188.90" y1="289.45" x2="193.90" y2="289.45" stroke="#000" stroke-width="2" />
<text x="194.90" y="293.45" font-size="11" font-weight="bold" text-anchor="start" >60</text>
<line x1="188.90" y1="251.60" x2="193.90" y2="251.60" stroke="#000" stroke-width="2" />
<text x="194.90" y="255.60" font-size="11" font-weight="bold" text-anchor="start" >80</text>
<line x1="38.50" y1="403.00" x2="188.90" y2="403.00" stroke="#000" stroke-width="2" />
<line x1="38.50" y1="403.00" x2="38.50" y2="407.50" stroke="#000" stroke-width="2" />
<text x="38.50" y="420.50" font-size="11" font-weight="bold" text-anchor="middle" >0</text>
<line x1="76.10" y1="403.00" x2="76.10" y2="407.50" stroke="#000" stroke-width="2" />
<text x="76.10" y="420.50" font-size="11" font-weight="bold" text-anchor="middle" >5</text>
<line x1="113.70" y1="403.00" x2="113.70" y2="407.50" stroke="#000" stroke-width="2" />
<text x="113.70" y="420.50" font-size="11" font-weight="bold" text-anchor="middle" >10</text>
<line x1="151.30" y1="403.00" x2="151.30" y2="407.50" stroke="#000" stroke-width="2" />
<text x="151.30" y="420.50" font-size="11" font-weight="bold" text-anchor="middle" >15</text>
<line x1="188.90" y1="403.00" x2="188.90" y2="407.50" stroke="#000" stroke-width="2" />
<text x="188.90" y="420.50" font-size="11" font-weight="bold" text-anchor="middle" >20</text>
<text x="113.80" y="437.50" font-size="12" font-weight="bold" text-anchor="middle" >Time (hr)</text>
<text transform="translate(13.5,326) rotate(-90)" font-size="12" font-weight="bold" text-anchor="middle">BrdU+ (%)</text>
<text transform="translate(224.2,327.5) rotate(-90)" font-size="12" font-weight="bold" text-anchor="middle">Annexin + (%)</text>
<polyline points="53.54,291.34 83.62,328.06 158.82,400.35" fill="none" stroke="#000" stroke-width="2" stroke-dasharray="6,4"/>
<polyline points="53.54,290.21 83.62,298.91 158.82,311.02" fill="none" stroke="#000" stroke-width="2" stroke-dasharray="6,4"/>
<polyline points="53.54,287.56 83.62,297.02 158.82,281.12" fill="none" stroke="#000" stroke-width="2" stroke-dasharray="6,4"/>
<polyline points="53.54,285.66 83.62,293.80 158.82,279.23" fill="none" stroke="#000" stroke-width="2" stroke-dasharray="6,4"/>
<polyline points="53.54,379.91 83.62,362.12 158.82,263.71" fill="none" stroke="#000" stroke-width="2"/>
<polyline points="53.54,379.91 83.62,386.35 158.82,357.58" fill="none" stroke="#000" stroke-width="2"/>
<polyline points="53.54,379.91 83.62,386.35 158.82,383.32" fill="none" stroke="#000" stroke-width="2"/>
<polyline points="53.54,379.91 83.62,385.97 158.82,384.07" fill="none" stroke="#000" stroke-width="2"/>
<path d="M53.54,295.52 L57.72,288.00 L49.36,288.00Z" fill="#000"/>
<path d="M83.62,332.24 L87.80,324.71 L79.44,324.71Z" fill="#000"/>
<path d="M158.82,404.53 L163.00,397.01 L154.64,397.01Z" fill="#000"/>
<path d="M53.54,384.09 L57.72,376.57 L49.36,376.57Z" fill="#000"/>
<path d="M83.62,366.30 L87.80,358.78 L79.44,358.78Z" fill="#000"/>
<path d="M158.82,267.89 L163.00,260.37 L154.64,260.37Z" fill="#000"/>
<path d="M53.54,286.03 L57.72,293.55 L49.36,293.55Z" fill="#000"/>
<path d="M83.62,294.73 L87.80,302.26 L79.44,302.26Z" fill="#000"/>
<path d="M158.82,306.84 L163.00,314.37 L154.64,314.37Z" fill="#000"/>
<path d="M53.54,375.73 L57.72,383.26 L49.36,383.26Z" fill="#000"/>
<path d="M83.62,382.17 L87.80,389.69 L79.44,389.69Z" fill="#000"/>
<path d="M158.82,353.40 L163.00,360.92 L154.64,360.92Z" fill="#000"/>
<rect x="49.93" y="283.95" width="7.22" height="7.22" fill="#000"/>
<rect x="80.01" y="293.41" width="7.22" height="7.22" fill="#000"/>
<rect x="155.21" y="277.51" width="7.22" height="7.22" fill="#000"/>
<rect x="49.93" y="376.30" width="7.22" height="7.22" fill="#000"/>
<rect x="80.01" y="382.74" width="7.22" height="7.22" fill="#000"/>
<rect x="155.21" y="379.71" width="7.22" height="7.22" fill="#000"/>
<circle cx="53.54" cy="285.66" r="3.80" fill="#000"/>
<circle cx="83.62" cy="293.80" r="3.80" fill="#000"/>
<circle cx="158.82" cy="279.23" r="3.80" fill="#000"/>
<circle cx="53.54" cy="379.91" r="3.80" fill="#000"/>
<circle cx="83.62" cy="385.97" r="3.80" fill="#000"/>
<circle cx="158.82" cy="384.07" r="3.80" fill="#000"/>
<circle cx="241.20" cy="263.30" r="3.90" fill="#000"/>
<text x="259.00" y="267.60" font-size="12.25" font-weight="normal" text-anchor="start" >Vehicle</text>
<rect x="237.49" y="277.30" width="7.41" height="7.41" fill="#000"/>
<text x="259.00" y="285.30" font-size="12.25" font-weight="normal" text-anchor="start" >KR 300nM</text>
<path d="M241.20,294.41 L245.49,302.13 L236.91,302.13Z" fill="#000"/>
<text x="259.00" y="303.00" font-size="12.25" font-weight="normal" text-anchor="start" >KR 1<tspan font-family="Liberation Serif">&#956;</tspan>M</text>
<path d="M241.20,320.69 L245.49,312.97 L236.91,312.97Z" fill="#000"/>
<text x="259.00" y="320.70" font-size="12.25" font-weight="normal" text-anchor="start" >KR 10<tspan font-family="Liberation Serif">&#956;</tspan>M</text>
<text x="1.30" y="472.20" font-size="26" font-weight="bold" text-anchor="start" >C</text>
<text x="66.80" y="492.60" font-size="12.5" font-weight="bold" text-anchor="end" letter-spacing="0.4">Bcl2</text>
<text x="66.80" y="518.60" font-size="12.5" font-weight="bold" text-anchor="end" letter-spacing="0.4">p53</text>
<text x="66.80" y="540.20" font-size="12.5" font-weight="bold" text-anchor="end" letter-spacing="0.4">GAPDH</text>
<defs><filter id="b1" x="-30%" y="-100%" width="160%" height="300%"><feGaussianBlur stdDeviation="0.75"/></filter><filter id="b2" x="-30%" y="-100%" width="160%" height="300%"><feGaussianBlur stdDeviation="1.2"/></filter><filter id="b3" x="-30%" y="-100%" width="160%" height="300%"><feGaussianBlur stdDeviation="2.0"/></filter><clipPath id="blotclip"><rect x="71.2" y="475" width="241.5" height="67.4"/></clipPath></defs>
<rect x="70.6" y="474.4" width="242.7" height="68.6" fill="#eaeaea"/>
<g clip-path="url(#blotclip)">
<rect x="217.0" y="475.5" width="12.0" height="8.0" rx="1.5" fill="#141414" fill-opacity="0.22" filter="url(#b2)"/>
<rect x="71.0" y="484.2" width="17.0" height="2.6" rx="1.5" fill="#141414" fill-opacity="0.8" filter="url(#b1)"/>
<rect x="87.0" y="482.4" width="16.0" height="7.2" rx="1.5" fill="#141414" fill-opacity="0.97" filter="url(#b1)"/>
<rect x="103.0" y="482.6" width="16.5" height="6.6" rx="1.5" fill="#141414" fill-opacity="0.95" filter="url(#b1)"/>
<rect x="118.0" y="484.6" width="17.0" height="3.1" rx="1.5" fill="#141414" fill-opacity="0.85" filter="url(#b1)"/>
<rect x="134.0" y="481.8" width="14.5" height="7.0" rx="1.5" fill="#141414" fill-opacity="0.93" filter="url(#b1)"/>
<rect x="148.0" y="482.3" width="14.5" height="6.5" rx="1.5" fill="#141414" fill-opacity="0.93" filter="url(#b1)"/>
<rect x="87.5" y="489.6" width="15.0" height="5.2" rx="1.5" fill="#141414" fill-opacity="0.95" filter="url(#b1)"/>
<rect x="104.0" y="489.8" width="14.5" height="4.8" rx="1.5" fill="#141414" fill-opacity="0.8" filter="url(#b1)"/>
<rect x="135.0" y="489.6" width="12.5" height="4.8" rx="1.5" fill="#141414" fill-opacity="0.5" filter="url(#b2)"/>
<rect x="149.5" y="489.8" width="12.0" height="4.4" rx="1.5" fill="#141414" fill-opacity="0.35" filter="url(#b2)"/>
<rect x="166.0" y="480.6" width="52.0" height="9.0" rx="1.5" fill="#141414" fill-opacity="0.9" filter="url(#b1)"/>
<rect x="216.0" y="481.8" width="43.0" height="8.2" rx="1.5" fill="#141414" fill-opacity="0.9" filter="url(#b1)"/>
<rect x="167.0" y="489.0" width="15.0" height="5.0" rx="1.5" fill="#141414" fill-opacity="0.3" filter="url(#b1)"/>
<rect x="183.0" y="489.0" width="15.0" height="5.6" rx="1.5" fill="#141414" fill-opacity="0.7" filter="url(#b1)"/>
<rect x="200.0" y="489.0" width="15.0" height="5.8" rx="1.5" fill="#141414" fill-opacity="0.85" filter="url(#b1)"/>
<rect x="217.0" y="489.5" width="11.5" height="6.1" rx="1.5" fill="#141414" fill-opacity="0.85" filter="url(#b1)"/>
<rect x="230.0" y="489.5" width="13.0" height="6.1" rx="1.5" fill="#141414" fill-opacity="0.88" filter="url(#b1)"/>
<rect x="244.0" y="489.5" width="14.5" height="6.3" rx="1.5" fill="#141414" fill-opacity="0.9" filter="url(#b1)"/>
<rect x="260.0" y="487.4" width="20.0" height="2.0" rx="1.5" fill="#141414" fill-opacity="0.3" filter="url(#b1)"/>
<rect x="279.0" y="487.4" width="17.0" height="2.2" rx="1.5" fill="#141414" fill-opacity="0.38" filter="url(#b1)"/>
<rect x="296.0" y="487.3" width="15.5" height="2.0" rx="1.5" fill="#141414" fill-opacity="0.3" filter="url(#b1)"/>
<path d="M70.5,507.5 L74.8,510.6 L70.5,513.2 Z" fill="#141414" fill-opacity="0.95" filter="url(#b1)"/>
<rect x="72.0" y="513.4" width="14.5" height="3.2" rx="1.5" fill="#141414" fill-opacity="0.72" filter="url(#b1)"/>
<rect x="103.0" y="513.7" width="15.5" height="2.9" rx="1.5" fill="#141414" fill-opacity="0.78" filter="url(#b1)"/>
<path d="M217,501 L228.5,501 C230.5,506 231,512 230.5,518 C230,523 229,526 228.5,528 L217,528 C215.5,524 214.2,519 214,514 C214,509 215.5,505 217,501 Z" fill="#141414" fill-opacity="0.97" filter="url(#b1)"/>
<rect x="228.0" y="503.0" width="16.0" height="23.0" rx="1.5" fill="#141414" fill-opacity="0.45" filter="url(#b2)"/>
<rect x="244.0" y="506.0" width="13.0" height="17.0" rx="1.5" fill="#141414" fill-opacity="0.15" filter="url(#b2)"/>
<rect x="228.5" y="511.4" width="16.0" height="8.2" rx="2" fill="#141414" fill-opacity="0.92" filter="url(#b1)"/>
<rect x="242.0" y="512.8" width="16.3" height="5.1" rx="2.5" fill="#141414" fill-opacity="0.95" filter="url(#b1)"/>
<rect x="71.0" y="531.0" width="18.0" height="6.4" rx="2" fill="#141414" fill-opacity="0.97" filter="url(#b1)"/>
<rect x="86.0" y="531.8" width="19.0" height="6.2" rx="2" fill="#141414" fill-opacity="0.97" filter="url(#b1)"/>
<rect x="102.0" y="532.2" width="19.0" height="6.4" rx="2" fill="#141414" fill-opacity="0.97" filter="url(#b1)"/>
<rect x="118.0" y="532.4" width="16.0" height="6.0" rx="2.5" fill="#141414" fill-opacity="0.97" filter="url(#b1)"/>
<rect x="135.0" y="535.2" width="12.5" height="2.2" rx="1.5" fill="#141414" fill-opacity="0.2" filter="url(#b1)"/>
<rect x="149.0" y="534.6" width="12.5" height="5.4" rx="2.5" fill="#141414" fill-opacity="0.97" filter="url(#b1)"/>
<rect x="166.0" y="528.8" width="18.0" height="6.2" rx="2.5" fill="#141414" fill-opacity="0.97" filter="url(#b1)"/>
<rect x="182.0" y="529.6" width="18.0" height="6.2" rx="2" fill="#141414" fill-opacity="0.97" filter="url(#b1)"/>
<rect x="198.0" y="529.8" width="20.0" height="6.0" rx="2" fill="#141414" fill-opacity="0.97" filter="url(#b1)"/>
<rect x="215.0" y="529.6" width="16.0" height="6.8" rx="2" fill="#141414" fill-opacity="0.97" filter="url(#b1)"/>
<rect x="229.0" y="530.2" width="17.0" height="6.8" rx="2" fill="#141414" fill-opacity="0.97" filter="url(#b1)"/>
<rect x="244.0" y="530.8" width="18.0" height="6.8" rx="2" fill="#141414" fill-opacity="0.97" filter="url(#b1)"/>
<rect x="259.0" y="531.6" width="20.0" height="7.2" rx="2" fill="#141414" fill-opacity="0.97" filter="url(#b1)"/>
<rect x="277.0" y="532.0" width="19.0" height="7.2" rx="2" fill="#141414" fill-opacity="0.97" filter="url(#b1)"/>
<rect x="294.0" y="531.4" width="17.8" height="7.8" rx="3" fill="#141414" fill-opacity="0.97" filter="url(#b1)"/>
<rect x="217.0" y="526.0" width="11.5" height="5.0" rx="1.5" fill="#141414" fill-opacity="0.8" filter="url(#b1)"/>
</g>
<rect x="70.6" y="474.4" width="242.7" height="68.6" fill="none" stroke="#6e6e6e" stroke-width="1.3"/>
<line x1="70.60" y1="500.90" x2="313.30" y2="500.90" stroke="#6e6e6e" stroke-width="1.4" />
<line x1="70.60" y1="527.60" x2="313.30" y2="527.60" stroke="#6e6e6e" stroke-width="1.4" />
<line x1="164.10" y1="474.40" x2="164.10" y2="543.00" stroke="#777" stroke-width="1.6" />
<text x="66.60" y="559.60" font-size="12" font-weight="bold" text-anchor="end" letter-spacing="0.4">Vehicle</text>
<text x="66.80" y="575.00" font-size="12" font-weight="bold" text-anchor="end" letter-spacing="0.4">KR 10<tspan font-weight="normal">&#956;</tspan>M</text>
<text x="66.80" y="590.00" font-size="12" font-weight="bold" text-anchor="end" letter-spacing="0.4">Etop 10<tspan font-weight="normal">&#956;</tspan>M</text>
<text x="78.60" y="559.30" font-size="13" font-weight="bold" text-anchor="middle" >+</text>
<text x="94.30" y="574.80" font-size="13" font-weight="bold" text-anchor="middle" >+</text>
<text x="110.00" y="590.30" font-size="13" font-weight="bold" text-anchor="middle" >+</text>
<line x1="75.80" y1="597.40" x2="112.70" y2="597.40" stroke="#000" stroke-width="2" />
<text x="94.25" y="612.40" font-size="12" font-weight="bold" text-anchor="middle" letter-spacing="0.4">TEX</text>
<text x="123.80" y="559.30" font-size="13" font-weight="bold" text-anchor="middle" >+</text>
<text x="139.50" y="574.80" font-size="13" font-weight="bold" text-anchor="middle" >+</text>
<text x="155.20" y="590.30" font-size="13" font-weight="bold" text-anchor="middle" >+</text>
<line x1="121.00" y1="597.40" x2="157.80" y2="597.40" stroke="#000" stroke-width="2" />
<text x="139.40" y="612.40" font-size="12" font-weight="bold" text-anchor="middle" letter-spacing="0.4">M9-</text>
<text x="174.00" y="559.30" font-size="13" font-weight="bold" text-anchor="middle" >+</text>
<text x="189.70" y="574.80" font-size="13" font-weight="bold" text-anchor="middle" >+</text>
<text x="205.40" y="590.30" font-size="13" font-weight="bold" text-anchor="middle" >+</text>
<line x1="171.20" y1="597.40" x2="208.20" y2="597.40" stroke="#000" stroke-width="2" />
<text x="189.70" y="612.40" font-size="12" font-weight="bold" text-anchor="middle" letter-spacing="0.4">HL60</text>
<text x="222.10" y="559.30" font-size="13" font-weight="bold" text-anchor="middle" >+</text>
<text x="237.80" y="574.80" font-size="13" font-weight="bold" text-anchor="middle" >+</text>
<text x="253.50" y="590.30" font-size="13" font-weight="bold" text-anchor="middle" >+</text>
<line x1="219.30" y1="597.40" x2="256.20" y2="597.40" stroke="#000" stroke-width="2" />
<text x="237.75" y="612.40" font-size="12" font-weight="bold" text-anchor="middle" letter-spacing="0.4">NB4</text>
<text x="268.80" y="559.30" font-size="13" font-weight="bold" text-anchor="middle" >+</text>
<text x="284.50" y="574.80" font-size="13" font-weight="bold" text-anchor="middle" >+</text>
<text x="300.20" y="590.30" font-size="13" font-weight="bold" text-anchor="middle" >+</text>
<line x1="266.00" y1="597.40" x2="303.00" y2="597.40" stroke="#000" stroke-width="2" />
<text x="284.50" y="612.40" font-size="12" font-weight="bold" text-anchor="middle" letter-spacing="0.4">K562</text>
<text x="139.40" y="628.20" font-size="12" font-weight="bold" text-anchor="middle" letter-spacing="0.4">ENL1</text>
<rect x="372.05" y="102.38" width="7.10" height="76.12" fill="#000" stroke="#000" stroke-width="1.3"/>
<line x1="375.60" y1="100.98" x2="375.60" y2="101.72" stroke="#000" stroke-width="1.3" />
<line x1="372.80" y1="100.98" x2="378.40" y2="100.98" stroke="#000" stroke-width="1.3" />
<line x1="372.80" y1="101.72" x2="378.40" y2="101.72" stroke="#000" stroke-width="1.3" />
<rect x="380.45" y="84.25" width="7.10" height="94.25" fill="#fff" stroke="#000" stroke-width="1.3"/>
<line x1="384.00" y1="83.04" x2="384.00" y2="84.15" stroke="#000" stroke-width="1.3" />
<line x1="381.20" y1="83.04" x2="386.80" y2="83.04" stroke="#000" stroke-width="1.3" />
<line x1="381.20" y1="84.15" x2="386.80" y2="84.15" stroke="#000" stroke-width="1.3" />
<rect x="388.85" y="95.53" width="7.10" height="82.97" fill="#888" stroke="#000" stroke-width="1.3"/>
<line x1="392.40" y1="85.63" x2="392.40" y2="104.13" stroke="#000" stroke-width="1.3" />
<line x1="389.60" y1="85.63" x2="395.20" y2="85.63" stroke="#000" stroke-width="1.3" />
<line x1="389.60" y1="104.13" x2="395.20" y2="104.13" stroke="#000" stroke-width="1.3" />
<rect x="401.20" y="142.89" width="7.10" height="35.61" fill="#000" stroke="#000" stroke-width="1.3"/>
<line x1="404.75" y1="137.80" x2="404.75" y2="142.24" stroke="#000" stroke-width="1.3" />
<line x1="401.95" y1="137.80" x2="407.55" y2="137.80" stroke="#000" stroke-width="1.3" />
<line x1="401.95" y1="142.24" x2="407.55" y2="142.24" stroke="#000" stroke-width="1.3" />
<rect x="409.60" y="113.66" width="7.10" height="64.84" fill="#fff" stroke="#000" stroke-width="1.3"/>
<line x1="413.15" y1="109.87" x2="413.15" y2="116.16" stroke="#000" stroke-width="1.3" />
<line x1="410.35" y1="109.87" x2="415.95" y2="109.87" stroke="#000" stroke-width="1.3" />
<line x1="410.35" y1="116.16" x2="415.95" y2="116.16" stroke="#000" stroke-width="1.3" />
<rect x="418.00" y="73.15" width="7.10" height="105.35" fill="#888" stroke="#000" stroke-width="1.3"/>
<line x1="421.55" y1="65.09" x2="421.55" y2="79.90" stroke="#000" stroke-width="1.3" />
<line x1="418.75" y1="65.09" x2="424.35" y2="65.09" stroke="#000" stroke-width="1.3" />
<line x1="418.75" y1="79.90" x2="424.35" y2="79.90" stroke="#000" stroke-width="1.3" />
<rect x="430.35" y="157.88" width="7.10" height="20.63" fill="#000" stroke="#000" stroke-width="1.3"/>
<line x1="433.90" y1="155.38" x2="433.90" y2="157.22" stroke="#000" stroke-width="1.3" />
<line x1="431.10" y1="155.38" x2="436.70" y2="155.38" stroke="#000" stroke-width="1.3" />
<line x1="431.10" y1="157.22" x2="436.70" y2="157.22" stroke="#000" stroke-width="1.3" />
<rect x="438.75" y="102.38" width="7.10" height="76.12" fill="#fff" stroke="#000" stroke-width="1.3"/>
<rect x="447.15" y="75.00" width="7.10" height="103.50" fill="#888" stroke="#000" stroke-width="1.3"/>
<line x1="450.70" y1="73.97" x2="450.70" y2="74.72" stroke="#000" stroke-width="1.3" />
<line x1="447.90" y1="73.97" x2="453.50" y2="73.97" stroke="#000" stroke-width="1.3" />
<line x1="447.90" y1="74.72" x2="453.50" y2="74.72" stroke="#000" stroke-width="1.3" />
<rect x="459.50" y="142.89" width="7.10" height="35.61" fill="#000" stroke="#000" stroke-width="1.3"/>
<line x1="463.05" y1="135.77" x2="463.05" y2="142.24" stroke="#000" stroke-width="1.3" />
<line x1="460.25" y1="135.77" x2="465.85" y2="135.77" stroke="#000" stroke-width="1.3" />
<line x1="460.25" y1="142.24" x2="465.85" y2="142.24" stroke="#000" stroke-width="1.3" />
<rect x="467.90" y="144.19" width="7.10" height="34.32" fill="#fff" stroke="#000" stroke-width="1.3"/>
<rect x="476.30" y="118.10" width="7.10" height="60.40" fill="#888" stroke="#000" stroke-width="1.3"/>
<line x1="479.85" y1="114.49" x2="479.85" y2="120.41" stroke="#000" stroke-width="1.3" />
<line x1="477.05" y1="114.49" x2="482.65" y2="114.49" stroke="#000" stroke-width="1.3" />
<line x1="477.05" y1="120.41" x2="482.65" y2="120.41" stroke="#000" stroke-width="1.3" />
<rect x="488.65" y="153.62" width="7.10" height="24.88" fill="#000" stroke="#000" stroke-width="1.3"/>
<line x1="492.20" y1="149.27" x2="492.20" y2="152.97" stroke="#000" stroke-width="1.3" />
<line x1="489.40" y1="149.27" x2="495.00" y2="149.27" stroke="#000" stroke-width="1.3" />
<line x1="489.40" y1="152.97" x2="495.00" y2="152.97" stroke="#000" stroke-width="1.3" />
<rect x="497.05" y="159.91" width="7.10" height="18.59" fill="#fff" stroke="#000" stroke-width="1.3"/>
<line x1="500.60" y1="158.70" x2="500.60" y2="159.81" stroke="#000" stroke-width="1.3" />
<line x1="497.80" y1="158.70" x2="503.40" y2="158.70" stroke="#000" stroke-width="1.3" />
<line x1="497.80" y1="159.81" x2="503.40" y2="159.81" stroke="#000" stroke-width="1.3" />
<rect x="505.45" y="155.47" width="7.10" height="23.03" fill="#888" stroke="#000" stroke-width="1.3"/>
<line x1="509.00" y1="149.64" x2="509.00" y2="160.00" stroke="#000" stroke-width="1.3" />
<line x1="506.20" y1="149.64" x2="511.80" y2="149.64" stroke="#000" stroke-width="1.3" />
<line x1="506.20" y1="160.00" x2="511.80" y2="160.00" stroke="#000" stroke-width="1.3" />
<line x1="369.50" y1="30.50" x2="369.50" y2="179.50" stroke="#000" stroke-width="2" />
<line x1="364.50" y1="178.50" x2="369.50" y2="178.50" stroke="#000" stroke-width="2" />
<text x="363.20" y="182.50" font-size="11" font-weight="bold" text-anchor="end" >0</text>
<line x1="364.50" y1="141.50" x2="369.50" y2="141.50" stroke="#000" stroke-width="2" />
<text x="363.20" y="145.50" font-size="11" font-weight="bold" text-anchor="end" >20</text>
<line x1="364.50" y1="104.50" x2="369.50" y2="104.50" stroke="#000" stroke-width="2" />
<text x="363.20" y="108.50" font-size="11" font-weight="bold" text-anchor="end" >40</text>
<line x1="364.50" y1="67.50" x2="369.50" y2="67.50" stroke="#000" stroke-width="2" />
<text x="363.20" y="71.50" font-size="11" font-weight="bold" text-anchor="end" >60</text>
<line x1="364.50" y1="30.50" x2="369.50" y2="30.50" stroke="#000" stroke-width="2" />
<text x="363.20" y="34.50" font-size="11" font-weight="bold" text-anchor="end" >80</text>
<line x1="369.50" y1="178.50" x2="516.30" y2="178.50" stroke="#000" stroke-width="2" />
<line x1="384.00" y1="178.50" x2="384.00" y2="183.50" stroke="#000" stroke-width="2" />
<line x1="413.15" y1="178.50" x2="413.15" y2="183.50" stroke="#000" stroke-width="2" />
<line x1="442.30" y1="178.50" x2="442.30" y2="183.50" stroke="#000" stroke-width="2" />
<line x1="471.45" y1="178.50" x2="471.45" y2="183.50" stroke="#000" stroke-width="2" />
<line x1="500.60" y1="178.50" x2="500.60" y2="183.50" stroke="#000" stroke-width="2" />
<text x="329.40" y="22.50" font-size="26" font-weight="bold" text-anchor="start" >D</text>
<text transform="translate(337.2,103.6) rotate(-90)" font-size="12" font-weight="bold" text-anchor="middle">p-H2AX+ (%)</text>
<text transform="translate(387.00,192.20) rotate(-45)" font-size="11" font-weight="bold" text-anchor="end">TEX</text>
<text transform="translate(416.15,192.20) rotate(-45)" font-size="11" font-weight="bold" text-anchor="end">M9-ENL1</text>
<text transform="translate(445.30,192.20) rotate(-45)" font-size="11" font-weight="bold" text-anchor="end">HL60</text>
<text transform="translate(474.45,192.20) rotate(-45)" font-size="11" font-weight="bold" text-anchor="end">NB4</text>
<text transform="translate(503.60,192.20) rotate(-45)" font-size="11" font-weight="bold" text-anchor="end">K562</text>
<rect x="372.05" y="388.63" width="7.10" height="13.87" fill="#000" stroke="#000" stroke-width="1.3"/>
<line x1="375.60" y1="387.62" x2="375.60" y2="387.98" stroke="#000" stroke-width="1.3" />
<line x1="372.80" y1="387.62" x2="378.40" y2="387.62" stroke="#000" stroke-width="1.3" />
<line x1="372.80" y1="387.98" x2="378.40" y2="387.98" stroke="#000" stroke-width="1.3" />
<rect x="380.45" y="380.36" width="7.10" height="22.14" fill="#fff" stroke="#000" stroke-width="1.3"/>
<line x1="384.00" y1="379.35" x2="384.00" y2="380.08" stroke="#000" stroke-width="1.3" />
<line x1="381.20" y1="379.35" x2="386.80" y2="379.35" stroke="#000" stroke-width="1.3" />
<line x1="381.20" y1="380.08" x2="386.80" y2="380.08" stroke="#000" stroke-width="1.3" />
<rect x="388.85" y="386.61" width="7.10" height="15.89" fill="#888" stroke="#000" stroke-width="1.3"/>
<line x1="392.40" y1="385.41" x2="392.40" y2="386.51" stroke="#000" stroke-width="1.3" />
<line x1="389.60" y1="385.41" x2="395.20" y2="385.41" stroke="#000" stroke-width="1.3" />
<line x1="389.60" y1="386.51" x2="395.20" y2="386.51" stroke="#000" stroke-width="1.3" />
<rect x="401.20" y="400.58" width="7.10" height="1.92" fill="#000" stroke="#000" stroke-width="1.3"/>
<line x1="404.75" y1="399.56" x2="404.75" y2="399.93" stroke="#000" stroke-width="1.3" />
<line x1="401.95" y1="399.56" x2="407.55" y2="399.56" stroke="#000" stroke-width="1.3" />
<line x1="401.95" y1="399.93" x2="407.55" y2="399.93" stroke="#000" stroke-width="1.3" />
<rect x="409.60" y="269.93" width="7.10" height="132.57" fill="#fff" stroke="#000" stroke-width="1.3"/>
<line x1="413.15" y1="268.00" x2="413.15" y2="270.57" stroke="#000" stroke-width="1.3" />
<line x1="410.35" y1="268.00" x2="415.95" y2="268.00" stroke="#000" stroke-width="1.3" />
<line x1="410.35" y1="270.57" x2="415.95" y2="270.57" stroke="#000" stroke-width="1.3" />
<rect x="418.00" y="316.79" width="7.10" height="85.71" fill="#888" stroke="#000" stroke-width="1.3"/>
<line x1="421.55" y1="313.93" x2="421.55" y2="318.34" stroke="#000" stroke-width="1.3" />
<line x1="418.75" y1="313.93" x2="424.35" y2="313.93" stroke="#000" stroke-width="1.3" />
<line x1="418.75" y1="318.34" x2="424.35" y2="318.34" stroke="#000" stroke-width="1.3" />
<rect x="430.35" y="393.96" width="7.10" height="8.54" fill="#000" stroke="#000" stroke-width="1.3"/>
<line x1="433.90" y1="392.76" x2="433.90" y2="393.31" stroke="#000" stroke-width="1.3" />
<line x1="431.10" y1="392.76" x2="436.70" y2="392.76" stroke="#000" stroke-width="1.3" />
<line x1="431.10" y1="393.31" x2="436.70" y2="393.31" stroke="#000" stroke-width="1.3" />
<rect x="438.75" y="392.49" width="7.10" height="10.01" fill="#fff" stroke="#000" stroke-width="1.3"/>
<line x1="442.30" y1="391.29" x2="442.30" y2="392.39" stroke="#000" stroke-width="1.3" />
<line x1="439.50" y1="391.29" x2="445.10" y2="391.29" stroke="#000" stroke-width="1.3" />
<line x1="439.50" y1="392.39" x2="445.10" y2="392.39" stroke="#000" stroke-width="1.3" />
<rect x="447.15" y="393.04" width="7.10" height="9.46" fill="#888" stroke="#000" stroke-width="1.3"/>
<line x1="450.70" y1="392.03" x2="450.70" y2="392.76" stroke="#000" stroke-width="1.3" />
<line x1="447.90" y1="392.03" x2="453.50" y2="392.03" stroke="#000" stroke-width="1.3" />
<line x1="447.90" y1="392.76" x2="453.50" y2="392.76" stroke="#000" stroke-width="1.3" />
<rect x="459.50" y="396.17" width="7.10" height="6.33" fill="#000" stroke="#000" stroke-width="1.3"/>
<line x1="463.05" y1="395.15" x2="463.05" y2="395.52" stroke="#000" stroke-width="1.3" />
<line x1="460.25" y1="395.15" x2="465.85" y2="395.15" stroke="#000" stroke-width="1.3" />
<line x1="460.25" y1="395.52" x2="465.85" y2="395.52" stroke="#000" stroke-width="1.3" />
<rect x="467.90" y="393.04" width="7.10" height="9.46" fill="#fff" stroke="#000" stroke-width="1.3"/>
<line x1="471.45" y1="392.03" x2="471.45" y2="392.76" stroke="#000" stroke-width="1.3" />
<line x1="468.65" y1="392.03" x2="474.25" y2="392.03" stroke="#000" stroke-width="1.3" />
<line x1="468.65" y1="392.76" x2="474.25" y2="392.76" stroke="#000" stroke-width="1.3" />
<rect x="476.30" y="391.94" width="7.10" height="10.56" fill="#888" stroke="#000" stroke-width="1.3"/>
<line x1="479.85" y1="390.92" x2="479.85" y2="391.66" stroke="#000" stroke-width="1.3" />
<line x1="477.05" y1="390.92" x2="482.65" y2="390.92" stroke="#000" stroke-width="1.3" />
<line x1="477.05" y1="391.66" x2="482.65" y2="391.66" stroke="#000" stroke-width="1.3" />
<rect x="488.65" y="399.84" width="7.10" height="2.66" fill="#000" stroke="#000" stroke-width="1.3"/>
<line x1="492.20" y1="399.01" x2="492.20" y2="399.19" stroke="#000" stroke-width="1.3" />
<line x1="489.40" y1="399.01" x2="495.00" y2="399.01" stroke="#000" stroke-width="1.3" />
<line x1="489.40" y1="399.19" x2="495.00" y2="399.19" stroke="#000" stroke-width="1.3" />
<rect x="497.05" y="400.03" width="7.10" height="2.47" fill="#fff" stroke="#000" stroke-width="1.3"/>
<line x1="500.60" y1="399.19" x2="500.60" y2="399.56" stroke="#000" stroke-width="1.3" />
<line x1="497.80" y1="399.19" x2="503.40" y2="399.19" stroke="#000" stroke-width="1.3" />
<line x1="497.80" y1="399.56" x2="503.40" y2="399.56" stroke="#000" stroke-width="1.3" />
<rect x="505.45" y="398.92" width="7.10" height="3.58" fill="#888" stroke="#000" stroke-width="1.3"/>
<line x1="509.00" y1="397.91" x2="509.00" y2="398.64" stroke="#000" stroke-width="1.3" />
<line x1="506.20" y1="397.91" x2="511.80" y2="397.91" stroke="#000" stroke-width="1.3" />
<line x1="506.20" y1="398.64" x2="511.80" y2="398.64" stroke="#000" stroke-width="1.3" />
<line x1="369.80" y1="255.50" x2="369.80" y2="403.50" stroke="#000" stroke-width="2" />
<line x1="364.80" y1="402.50" x2="369.80" y2="402.50" stroke="#000" stroke-width="2" />
<text x="363.50" y="406.50" font-size="11" font-weight="bold" text-anchor="end" >0</text>
<line x1="364.80" y1="365.75" x2="369.80" y2="365.75" stroke="#000" stroke-width="2" />
<text x="363.50" y="369.75" font-size="11" font-weight="bold" text-anchor="end" >20</text>
<line x1="364.80" y1="329.00" x2="369.80" y2="329.00" stroke="#000" stroke-width="2" />
<text x="363.50" y="333.00" font-size="11" font-weight="bold" text-anchor="end" >40</text>
<line x1="364.80" y1="292.25" x2="369.80" y2="292.25" stroke="#000" stroke-width="2" />
<text x="363.50" y="296.25" font-size="11" font-weight="bold" text-anchor="end" >60</text>
<line x1="364.80" y1="255.50" x2="369.80" y2="255.50" stroke="#000" stroke-width="2" />
<text x="363.50" y="259.50" font-size="11" font-weight="bold" text-anchor="end" >80</text>
<line x1="369.80" y1="402.50" x2="516.30" y2="402.50" stroke="#000" stroke-width="2" />
<line x1="384.00" y1="402.50" x2="384.00" y2="407.50" stroke="#000" stroke-width="2" />
<line x1="413.15" y1="402.50" x2="413.15" y2="407.50" stroke="#000" stroke-width="2" />
<line x1="442.30" y1="402.50" x2="442.30" y2="407.50" stroke="#000" stroke-width="2" />
<line x1="471.45" y1="402.50" x2="471.45" y2="407.50" stroke="#000" stroke-width="2" />
<line x1="500.60" y1="402.50" x2="500.60" y2="407.50" stroke="#000" stroke-width="2" />
<text x="329.40" y="246.90" font-size="26" font-weight="bold" text-anchor="start" >E</text>
<text transform="translate(337.2,328.4) rotate(-90)" font-size="12" font-weight="bold" text-anchor="middle">mBBr(-) (%)</text>
<text transform="translate(387.00,416.20) rotate(-45)" font-size="11" font-weight="bold" text-anchor="end">TEX</text>
<text transform="translate(416.15,416.20) rotate(-45)" font-size="11" font-weight="bold" text-anchor="end">M9-ENL1</text>
<text transform="translate(445.30,416.20) rotate(-45)" font-size="11" font-weight="bold" text-anchor="end">HL60</text>
<text transform="translate(474.45,416.20) rotate(-45)" font-size="11" font-weight="bold" text-anchor="end">NB4</text>
<text transform="translate(503.60,416.20) rotate(-45)" font-size="11" font-weight="bold" text-anchor="end">K562</text>
<rect x="371.25" y="561.29" width="7.10" height="68.21" fill="#000" stroke="#000" stroke-width="1.3"/>
<line x1="374.80" y1="555.96" x2="374.80" y2="560.64" stroke="#000" stroke-width="1.3" />
<line x1="372.00" y1="555.96" x2="377.60" y2="555.96" stroke="#000" stroke-width="1.3" />
<line x1="372.00" y1="560.64" x2="377.60" y2="560.64" stroke="#000" stroke-width="1.3" />
<rect x="379.65" y="575.07" width="7.10" height="54.43" fill="#fff" stroke="#000" stroke-width="1.3"/>
<line x1="383.20" y1="572.36" x2="383.20" y2="576.47" stroke="#000" stroke-width="1.3" />
<line x1="380.40" y1="572.36" x2="386.00" y2="572.36" stroke="#000" stroke-width="1.3" />
<line x1="380.40" y1="576.47" x2="386.00" y2="576.47" stroke="#000" stroke-width="1.3" />
<rect x="388.05" y="570.08" width="7.10" height="59.42" fill="#888" stroke="#000" stroke-width="1.3"/>
<line x1="391.60" y1="569.00" x2="391.60" y2="569.87" stroke="#000" stroke-width="1.3" />
<line x1="388.80" y1="569.00" x2="394.40" y2="569.00" stroke="#000" stroke-width="1.3" />
<line x1="388.80" y1="569.87" x2="394.40" y2="569.87" stroke="#000" stroke-width="1.3" />
<rect x="400.40" y="561.59" width="7.10" height="67.91" fill="#000" stroke="#000" stroke-width="1.3"/>
<line x1="403.95" y1="557.28" x2="403.95" y2="560.94" stroke="#000" stroke-width="1.3" />
<line x1="401.15" y1="557.28" x2="406.75" y2="557.28" stroke="#000" stroke-width="1.3" />
<line x1="401.15" y1="560.94" x2="406.75" y2="560.94" stroke="#000" stroke-width="1.3" />
<rect x="408.80" y="627.95" width="7.10" height="1.55" fill="#fff" stroke="#000" stroke-width="1.3"/>
<line x1="412.35" y1="626.86" x2="412.35" y2="627.74" stroke="#000" stroke-width="1.3" />
<line x1="409.55" y1="626.86" x2="415.15" y2="626.86" stroke="#000" stroke-width="1.3" />
<line x1="409.55" y1="627.74" x2="415.15" y2="627.74" stroke="#000" stroke-width="1.3" />
<rect x="417.20" y="556.46" width="7.10" height="73.04" fill="#888" stroke="#000" stroke-width="1.3"/>
<line x1="420.75" y1="554.05" x2="420.75" y2="557.57" stroke="#000" stroke-width="1.3" />
<line x1="417.95" y1="554.05" x2="423.55" y2="554.05" stroke="#000" stroke-width="1.3" />
<line x1="417.95" y1="557.57" x2="423.55" y2="557.57" stroke="#000" stroke-width="1.3" />
<rect x="429.55" y="563.64" width="7.10" height="65.86" fill="#000" stroke="#000" stroke-width="1.3"/>
<line x1="433.10" y1="555.96" x2="433.10" y2="562.99" stroke="#000" stroke-width="1.3" />
<line x1="430.30" y1="555.96" x2="435.90" y2="555.96" stroke="#000" stroke-width="1.3" />
<line x1="430.30" y1="562.99" x2="435.90" y2="562.99" stroke="#000" stroke-width="1.3" />
<rect x="437.95" y="574.19" width="7.10" height="55.31" fill="#fff" stroke="#000" stroke-width="1.3"/>
<line x1="441.50" y1="568.70" x2="441.50" y2="578.37" stroke="#000" stroke-width="1.3" />
<line x1="438.70" y1="568.70" x2="444.30" y2="568.70" stroke="#000" stroke-width="1.3" />
<line x1="438.70" y1="578.37" x2="444.30" y2="578.37" stroke="#000" stroke-width="1.3" />
<rect x="446.35" y="542.10" width="7.10" height="87.40" fill="#888" stroke="#000" stroke-width="1.3"/>
<line x1="449.90" y1="535.74" x2="449.90" y2="547.17" stroke="#000" stroke-width="1.3" />
<line x1="447.10" y1="535.74" x2="452.70" y2="535.74" stroke="#000" stroke-width="1.3" />
<line x1="447.10" y1="547.17" x2="452.70" y2="547.17" stroke="#000" stroke-width="1.3" />
<rect x="458.70" y="556.90" width="7.10" height="72.60" fill="#000" stroke="#000" stroke-width="1.3"/>
<rect x="467.10" y="624.00" width="7.10" height="5.50" fill="#fff" stroke="#000" stroke-width="1.3"/>
<line x1="470.65" y1="622.91" x2="470.65" y2="623.79" stroke="#000" stroke-width="1.3" />
<line x1="467.85" y1="622.91" x2="473.45" y2="622.91" stroke="#000" stroke-width="1.3" />
<line x1="467.85" y1="623.79" x2="473.45" y2="623.79" stroke="#000" stroke-width="1.3" />
<rect x="475.50" y="604.22" width="7.10" height="25.28" fill="#888" stroke="#000" stroke-width="1.3"/>
<line x1="479.05" y1="599.03" x2="479.05" y2="608.11" stroke="#000" stroke-width="1.3" />
<line x1="476.25" y1="599.03" x2="481.85" y2="599.03" stroke="#000" stroke-width="1.3" />
<line x1="476.25" y1="608.11" x2="481.85" y2="608.11" stroke="#000" stroke-width="1.3" />
<rect x="487.85" y="554.26" width="7.10" height="75.24" fill="#000" stroke="#000" stroke-width="1.3"/>
<line x1="491.40" y1="552.88" x2="491.40" y2="553.61" stroke="#000" stroke-width="1.3" />
<line x1="488.60" y1="552.88" x2="494.20" y2="552.88" stroke="#000" stroke-width="1.3" />
<line x1="488.60" y1="553.61" x2="494.20" y2="553.61" stroke="#000" stroke-width="1.3" />
<rect x="496.25" y="545.18" width="7.10" height="84.32" fill="#fff" stroke="#000" stroke-width="1.3"/>
<line x1="499.80" y1="544.09" x2="499.80" y2="544.97" stroke="#000" stroke-width="1.3" />
<line x1="497.00" y1="544.09" x2="502.60" y2="544.09" stroke="#000" stroke-width="1.3" />
<line x1="497.00" y1="544.97" x2="502.60" y2="544.97" stroke="#000" stroke-width="1.3" />
<rect x="504.65" y="510.46" width="7.10" height="119.04" fill="#888" stroke="#000" stroke-width="1.3"/>
<line x1="508.20" y1="499.85" x2="508.20" y2="519.77" stroke="#000" stroke-width="1.3" />
<line x1="505.40" y1="499.85" x2="511.00" y2="499.85" stroke="#000" stroke-width="1.3" />
<line x1="505.40" y1="519.77" x2="511.00" y2="519.77" stroke="#000" stroke-width="1.3" />
<line x1="368.80" y1="483.00" x2="368.80" y2="630.50" stroke="#000" stroke-width="2" />
<line x1="363.80" y1="629.50" x2="368.80" y2="629.50" stroke="#000" stroke-width="2" />
<text x="362.50" y="633.50" font-size="11" font-weight="bold" text-anchor="end" >0</text>
<line x1="363.80" y1="600.20" x2="368.80" y2="600.20" stroke="#000" stroke-width="2" />
<text x="362.50" y="604.20" font-size="11" font-weight="bold" text-anchor="end" >20</text>
<line x1="363.80" y1="570.90" x2="368.80" y2="570.90" stroke="#000" stroke-width="2" />
<text x="362.50" y="574.90" font-size="11" font-weight="bold" text-anchor="end" >40</text>
<line x1="363.80" y1="541.60" x2="368.80" y2="541.60" stroke="#000" stroke-width="2" />
<text x="362.50" y="545.60" font-size="11" font-weight="bold" text-anchor="end" >60</text>
<line x1="363.80" y1="512.30" x2="368.80" y2="512.30" stroke="#000" stroke-width="2" />
<text x="362.50" y="516.30" font-size="11" font-weight="bold" text-anchor="end" >80</text>
<line x1="363.80" y1="483.00" x2="368.80" y2="483.00" stroke="#000" stroke-width="2" />
<text x="362.50" y="487.00" font-size="11" font-weight="bold" text-anchor="end" >100</text>
<line x1="368.80" y1="629.50" x2="516.30" y2="629.50" stroke="#000" stroke-width="2" />
<line x1="383.20" y1="629.50" x2="383.20" y2="634.50" stroke="#000" stroke-width="2" />
<line x1="412.35" y1="629.50" x2="412.35" y2="634.50" stroke="#000" stroke-width="2" />
<line x1="441.50" y1="629.50" x2="441.50" y2="634.50" stroke="#000" stroke-width="2" />
<line x1="470.65" y1="629.50" x2="470.65" y2="634.50" stroke="#000" stroke-width="2" />
<line x1="499.80" y1="629.50" x2="499.80" y2="634.50" stroke="#000" stroke-width="2" />
<line x1="368.80" y1="556.25" x2="516.30" y2="556.25" stroke="#000" stroke-width="1.3" stroke-dasharray="2.2,2"/>
<line x1="364.30" y1="556.25" x2="368.80" y2="556.25" stroke="#000" stroke-width="1.6" />
<text x="329.40" y="471.90" font-size="26" font-weight="bold" text-anchor="start" >F</text>
<text transform="translate(337.2,568.4) rotate(-90)" font-size="12" font-weight="bold" text-anchor="middle">CM-H<tspan font-size="11.5" dy="3.5">2</tspan><tspan dy="-3.5">DCFDA + (%)</tspan></text>
<text transform="translate(386.20,643.00) rotate(-45)" font-size="11" font-weight="bold" text-anchor="end">TEX</text>
<text transform="translate(415.35,643.00) rotate(-45)" font-size="11" font-weight="bold" text-anchor="end">M9-ENL1</text>
<text transform="translate(444.50,643.00) rotate(-45)" font-size="11" font-weight="bold" text-anchor="end">HL60</text>
<text transform="translate(473.65,643.00) rotate(-45)" font-size="11" font-weight="bold" text-anchor="end">NB4</text>
<text transform="translate(502.80,643.00) rotate(-45)" font-size="11" font-weight="bold" text-anchor="end">K562</text>
<rect x="429.5" y="249.40" width="18.8" height="10.8" fill="#000" stroke="#000" stroke-width="1.3"/>
<text x="455.40" y="259.00" font-size="12.25" font-weight="normal" text-anchor="start" >Vehicle</text>
<rect x="429.5" y="267.50" width="18.8" height="10.8" fill="#fff" stroke="#000" stroke-width="1.3"/>
<text x="455.40" y="277.10" font-size="12.25" font-weight="normal" text-anchor="start" >KR 10<tspan font-family="Liberation Serif">&#956;</tspan>M</text>
<rect x="429.5" y="285.60" width="18.8" height="10.8" fill="#888" stroke="#000" stroke-width="1.3"/>
<text x="455.40" y="295.20" font-size="12.25" font-weight="normal" text-anchor="start" >Etop 10<tspan font-family="Liberation Serif">&#956;</tspan>M</text>
</svg>
</body></html>
